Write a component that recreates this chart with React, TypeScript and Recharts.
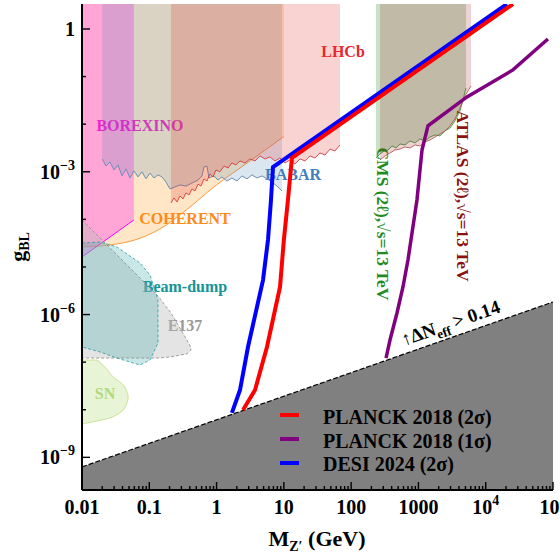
import { Area, ComposedChart, Legend, Line, XAxis, YAxis } from "recharts"

const FONT = "'Liberation Serif', 'Times New Roman', Times, serif"

const M_RANGE: [number, number] = [0.01, 1e5]
const G_RANGE: [number, number] = [2.06e-10, 3.35]
// shaded exclusions run past the frame and get clipped
const G_TOP = 30
const G_BOTTOM = 1e-11

const xMajor = [0.01, 0.1, 1, 10, 100, 1000, 1e4, 1e5]
const xMajorLabels = ["0.01", "0.1", "1", "10", "100", "1000", "10^4", "10^5"]
const yDecades = [1e-9, 1e-8, 1e-7, 1e-6, 1e-5, 1e-4, 1e-3, 1e-2, 1e-1, 1]
const yMajor = [1, 1e-3, 1e-6, 1e-9]
const yMajorLabels = ["1", "10^−3", "10^−6", "10^−9"]

const xTicks = [
  ...xMajor,
  ...xMajor.slice(0, -1).flatMap((d) => [2, 3, 4, 5, 6, 7, 8, 9].map((k) => k * d)),
]

// excluded from the lower edge up
const coherentMass = [0.01, 0.026, 0.061, 0.144, 0.339, 0.947, 3.14, 10.0]
const coherentG = [2.63e-5, 2.9e-5, 3.69e-5, 6.3e-5, 1.5e-4, 5.0e-4, 1.69e-3, 5.5e-3]

const borexinoMass = [0.01, 0.059]
const borexinoG = [1.62e-5, 9.7e-5]

const babarMass = [
  0.02, 0.0227, 0.026, 0.0299, 0.0343, 0.0393, 0.0451, 0.0517, 0.0593, 0.068, 0.0779, 0.0893,
  0.1025, 0.1175, 0.1347, 0.1545, 0.177, 0.203, 0.241, 0.286, 0.351, 0.431, 0.53, 0.607, 0.65,
  0.72, 0.771, 0.915, 1.05, 1.2, 1.43, 1.69, 2.01, 2.39, 2.83, 3.36, 3.99, 4.73, 5.61, 6.66,
  7.91, 9.38,
]
const babarG = [
  1.86e-3, 1.32e-3, 1.61e-3, 1.09e-3, 1.39e-3, 8.2e-4, 1.15e-3, 7.4e-4, 1.04e-3, 7.8e-4, 1.0e-3,
  7.1e-4, 9.4e-4, 7.4e-4, 8.6e-4, 7.8e-4, 6.1e-4, 4.35e-4, 4.8e-4, 5.3e-4, 5.0e-4, 5.8e-4,
  6.7e-4, 8.2e-4, 1.26e-3, 1.32e-3, 7.4e-4, 8.2e-4, 6.7e-4, 7.8e-4, 6.4e-4, 7.4e-4, 6.4e-4,
  8.2e-4, 7.1e-4, 8.6e-4, 7.4e-4, 8.2e-4, 7.1e-4, 6.1e-4, 5.0e-4, 3.95e-4,
]

const lhcbMass = [
  0.21, 0.233, 0.258, 0.286, 0.317, 0.351, 0.389, 0.431, 0.478, 0.53, 0.587, 0.65, 0.72, 0.798,
  0.885, 0.98, 1.12, 1.29, 1.48, 1.69, 1.94, 2.23, 2.65, 3.14, 3.72, 4.42, 5.24, 6.22, 7.38, 8.76,
  10.4, 12.3, 14.6, 17.4, 20.6, 24.5, 29.0, 34.4, 40.9, 48.5, 57.5, 68.2,
]
const lhcbG = [
  2.21e-4, 2.82e-4, 2.32e-4, 3.1e-4, 2.68e-4, 3.59e-4, 3.26e-4, 4.35e-4, 3.95e-4, 5.5e-4, 5.0e-4,
  7.1e-4, 6.4e-4, 9.0e-4, 7.8e-4, 1.09e-3, 1.0e-3, 1.32e-3, 1.2e-3, 1.53e-3, 1.39e-3, 1.69e-3,
  1.53e-3, 1.86e-3, 1.69e-3, 2.15e-3, 1.86e-3, 2.05e-3, 1.69e-3, 1.95e-3, 1.53e-3, 1.77e-3,
  1.46e-3, 1.86e-3, 1.69e-3, 2.15e-3, 1.95e-3, 2.48e-3, 2.25e-3, 3.0e-3, 2.73e-3, 3.66e-3,
]

const cmsMass = [
  234, 268, 308, 353, 405, 464, 532, 631, 749, 889, 1054, 1251, 1485, 1762, 2090, 2481, 2944,
  3493, 4145, 4592, 5090,
]
const cmsG = [
  1.95e-3, 2.37e-3, 2.73e-3, 2.87e-3, 3.48e-3, 3.16e-3, 3.84e-3, 3.66e-3, 4.44e-3, 4.03e-3,
  4.89e-3, 4.44e-3, 5.38e-3, 5.93e-3, 5.65e-3, 7.2e-3, 8.3e-3, 1.17e-2, 1.89e-2, 3.22e-2, 5.77e-2,
]

const atlasMass = [
  268, 318, 378, 448, 532, 631, 749, 889, 1054, 1251, 1485, 1762, 2090, 2481, 2944, 3493, 4145,
  4918, 6040,
]
const atlasG = [
  1.77e-3, 2.15e-3, 2.48e-3, 2.87e-3, 3.0e-3, 3.32e-3, 3.16e-3, 3.66e-3, 3.48e-3, 4.23e-3,
  4.66e-3, 5.38e-3, 6.2e-3, 7.2e-3, 9.2e-3, 1.29e-2, 2.19e-2, 3.91e-2, 6.35e-2,
]

// closed islands: upper and lower edge at each mass
const e137Mass = [0.01, 0.1347, 0.21, 0.296, 0.363, 0.417]
const e137High = [9.7e-5, 2.46e-6, 1.08e-6, 4.75e-7, 2.92e-7, 1.99e-7]
const e137Low = [1.22e-7, 1.22e-7, 1.29e-7, 1.42e-7, 1.49e-7, 1.8e-7]

const beamDumpMass = [0.01, 0.0185, 0.0331, 0.0728, 0.1025, 0.1347]
const beamDumpHigh = [3.19e-5, 3.35e-5, 2.63e-5, 1.21e-5, 6.8e-6, 2.03e-6]
const beamDumpLow = [2.08e-7, 1.64e-7, 1.22e-7, 8.7e-8, 1.11e-7, 2.53e-7]

const snMass = [0.01, 0.0167, 0.0227, 0.0289, 0.0367, 0.0436, 0.0483]
const snHigh = [1.11e-7, 1.11e-7, 7.55e-8, 4.9e-8, 3.84e-8, 3.0e-8, 2.05e-8]
const snLow = [5.0e-9, 5.8e-9, 6.4e-9, 7.1e-9, 8.6e-9, 1.09e-8, 1.61e-8]

// Delta N_eff > 0.14 below this line
const neffMass = [0.01, 1e5]
const neffG = [6.3e-10, 1.84e-6]

const desiMass = [1.69, 2.23, 2.93, 4.9, 5.81, 6.44, 6.89, 20700]
const desiG = [8.6e-9, 2.6e-8, 2.08e-7, 5.3e-6, 3.69e-5, 2.56e-4, 1.26e-3, 3.35]

const planck2Mass = [2.47, 3.73, 5.61, 8.77, 10.0, 11.5, 13.2, 25400]
const planck2G = [9.9e-9, 2.6e-8, 2.08e-7, 3.8e-6, 3.69e-5, 2.56e-4, 1.95e-3, 3.35]

const planck1Mass = [330, 378, 480, 589, 699, 951, 1130, 1387, 5270, 25400, 84100]
const planck1G = [1.22e-7, 2.92e-7, 1.08e-6, 3.8e-6, 1.4e-5, 2.56e-4, 2.87e-3, 9.2e-3, 3.73e-2, 0.138, 0.617]

const legendNames = ["PLANCK 2018 (2σ)", "PLANCK 2018 (1σ)", "DESI 2024 (2σ)"]
const legendColors = ["#ff0000", "#800080", "#0000ff"]

const above = (mass: number[], g: number[]) => mass.map((m, i) => ({ m, g: [g[i], G_TOP] }))
const between = (mass: number[], lo: number[], hi: number[]) =>
  mass.map((m, i) => ({ m, g: [lo[i], hi[i]] }))
const ring = (mass: number[], lo: number[], hi: number[]) => [
  ...mass.map((m, i) => ({ m, g: hi[i] })),
  ...mass.map((m, i) => ({ m, g: lo[i] })).reverse(),
]
const curve = (mass: number[], g: number[]) => mass.map((m, i) => ({ m, g: g[i] }))

const near = (a: number, b: number) => Math.abs(a - b) <= Math.abs(b) * 1e-6

function PowerText({ x, y, text, anchor, size = 20 }: any) {
  const [base, exp] = text.split("^")
  return (
    <text x={x} y={y} textAnchor={anchor} fontFamily={FONT} fontWeight="bold" fontSize={size} fill="#000">
      <tspan>{base}</tspan>
      {exp && (
        <tspan dy={-9} fontSize={size * 0.7}>
          {exp}
        </tspan>
      )}
    </text>
  )
}

function XTick({ x, y, payload, side }: any) {
  const i = xMajor.findIndex((v) => near(payload.value, v))
  const len = i >= 0 ? 8 : 4
  const dir = side === "bottom" ? -1 : 1
  return (
    <g>
      <line x1={x} x2={x} y1={y} y2={y + dir * len} stroke="#000" strokeWidth={1.4} />
      {side === "bottom" && i >= 0 && (
        <PowerText x={x} y={y + 24} text={xMajorLabels[i]} anchor="middle" />
      )}
    </g>
  )
}

function YTick({ x, y, payload, side }: any) {
  const i = yMajor.findIndex((v) => near(payload.value, v))
  const len = i >= 0 ? 8 : 4
  const dir = side === "left" ? 1 : -1
  return (
    <g>
      <line x1={x} x2={x + dir * len} y1={y} y2={y} stroke="#000" strokeWidth={1.4} />
      {side === "left" && i >= 0 && (
        <PowerText x={x - 7} y={y + 7} text={yMajorLabels[i]} anchor="end" />
      )}
    </g>
  )
}

const label = (x: number, y: number, text: string, color: string, size = 16, rotate = 0) => (
  <text
    key={text}
    x={x}
    y={y}
    textAnchor="middle"
    dominantBaseline={rotate ? "central" : undefined}
    transform={rotate ? `rotate(${rotate} ${x} ${y})` : undefined}
    fontFamily={FONT}
    fontWeight="bold"
    fontSize={size}
    fill={color}
  >
    {text}
  </text>
)

// legend sits over the grey band, so it is drawn in the html overlay
function CurveLegend() {
  return (
    <svg width={560} height={560} style={{ position: "absolute", left: 0, top: 0, pointerEvents: "none" }}>
      {legendNames.map((name, i) => (
        <line key={`k${name}`} x1={280} x2={299} y1={415 + i * 24} y2={415 + i * 24} stroke={legendColors[i]} strokeWidth={4} />
      ))}
      {legendNames.map((name, i) => (
        <text key={`t${name}`} x={323} y={424 + i * 23.5} fontFamily={FONT} fontWeight="bold" fontSize={20} fill="#000">
          {name}
        </text>
      ))}
    </svg>
  )
}

export default function App() {
  return (
    <div style={{ position: "absolute", left: 0, top: 0, width: 560, height: 560, background: "#fff" }}>
      <ComposedChart width={560} height={560} margin={{ top: 4, right: 7, bottom: 0, left: 0 }}>
        <XAxis
          dataKey="m"
          type="number"
          scale="log"
          domain={M_RANGE}
          allowDataOverflow
          ticks={xTicks}
          interval={0}
          height={70}
          tickSize={0}
          tickMargin={0}
          tickLine={false}
          axisLine={{ stroke: "#000", strokeWidth: 2 }}
          tick={(p: any) => <XTick {...p} side="bottom" />}
        />
        <XAxis
          xAxisId="top"
          orientation="top"
          type="number"
          scale="log"
          domain={M_RANGE}
          allowDataOverflow
          ticks={xTicks}
          interval={0}
          height={0}
          tickSize={0}
          tickMargin={0}
          tickLine={false}
          axisLine={{ stroke: "#000", strokeWidth: 2 }}
          tick={(p: any) => <XTick {...p} side="top" />}
        />
        <YAxis
          type="number"
          scale="log"
          domain={G_RANGE}
          allowDataOverflow
          ticks={yDecades}
          interval={0}
          width={82}
          tickSize={0}
          tickMargin={0}
          tickLine={false}
          axisLine={{ stroke: "#000", strokeWidth: 2 }}
          tick={(p: any) => <YTick {...p} side="left" />}
        />
        <YAxis
          yAxisId="right"
          orientation="right"
          type="number"
          scale="log"
          domain={G_RANGE}
          allowDataOverflow
          ticks={yDecades}
          interval={0}
          width={0}
          tickSize={0}
          tickMargin={0}
          tickLine={false}
          axisLine={{ stroke: "#000", strokeWidth: 2 }}
          tick={(p: any) => <YTick {...p} side="right" />}
        />

        <Area data={above(coherentMass, coherentG)} dataKey="g" type="monotone" fill="#ff8c00" fillOpacity={0.22} stroke="#ff9a3c" strokeWidth={1} isAnimationActive={false} />
        <Area data={above(borexinoMass, borexinoG)} dataKey="g" type="linear" fill="#ff00ff" fillOpacity={0.28} stroke="#ff00ff" strokeWidth={1} isAnimationActive={false} />
        <Area data={above(babarMass, babarG)} dataKey="g" type="linear" fill="#4682b4" fillOpacity={0.2} stroke="#6f8fb5" strokeWidth={1} isAnimationActive={false} />
        <Area data={above(lhcbMass, lhcbG)} dataKey="g" type="linear" fill="#e43232" fillOpacity={0.22} stroke="#d42a2a" strokeWidth={0.8} isAnimationActive={false} />
        <Area data={above(cmsMass, cmsG)} dataKey="g" type="linear" fill="#228b22" fillOpacity={0.25} stroke="#2e8b2e" strokeWidth={0.8} isAnimationActive={false} />
        <Area data={above(atlasMass, atlasG)} dataKey="g" type="linear" fill="#a01e1e" fillOpacity={0.2} stroke="#b04848" strokeWidth={0.8} isAnimationActive={false} />

        <Area data={between(e137Mass, e137Low, e137High)} dataKey="g" type="linear" fill="#bbbbbb" fillOpacity={0.4} stroke="none" isAnimationActive={false} />
        <Line data={ring(e137Mass, e137Low, e137High)} dataKey="g" type="linear" stroke="#8a8a8a" strokeWidth={0.8} strokeDasharray="3 2" dot={false} activeDot={false} isAnimationActive={false} />
        <Area data={between(beamDumpMass, beamDumpLow, beamDumpHigh)} dataKey="g" type="linear" fill="#2aa0a0" fillOpacity={0.25} stroke="none" isAnimationActive={false} />
        <Line data={ring(beamDumpMass, beamDumpLow, beamDumpHigh)} dataKey="g" type="linear" stroke="#2a9d9d" strokeWidth={0.8} strokeDasharray="3 2" dot={false} activeDot={false} isAnimationActive={false} />
        <Area data={between(snMass, snLow, snHigh)} dataKey="g" type="monotone" fill="#b4dc78" fillOpacity={0.3} stroke="none" isAnimationActive={false} />
        <Line data={ring(snMass, snLow, snHigh)} dataKey="g" type="linear" stroke="#c2de86" strokeWidth={0.8} dot={false} activeDot={false} isAnimationActive={false} />

        <Area data={neffMass.map((m, i) => ({ m, g: [G_BOTTOM, neffG[i]] }))} dataKey="g" type="linear" fill="#808080" fillOpacity={1} stroke="#000" strokeWidth={1.2} strokeDasharray="5 2" isAnimationActive={false} />

        {label(140, 131, "BOREXINO", "#ee11ee")}
        {label(185, 224, "COHERENT", "#ff8a1c")}
        {label(343, 57, "LHCb", "#e8262b")}
        {label(293, 180, "BABAR", "#3f7fbf")}
        {label(185, 292, "Beam-dump", "#169494")}
        {label(185, 331, "E137", "#9a9a9a")}
        {label(105, 399, "SN", "#b5d97a")}
        {label(383, 224, "CMS (2ℓ),√s=13 TeV", "#1e8c1e", 17.5, 90)}
        {label(463, 196, "ATLAS (2ℓ),√s=13 TeV", "#8b1010", 17.5, 90)}

        <Line data={curve(desiMass, desiG)} dataKey="g" type="linear" stroke="#0000ff" strokeWidth={4} dot={false} activeDot={false} isAnimationActive={false} />
        <Line data={curve(planck2Mass, planck2G)} dataKey="g" type="linear" stroke="#ff0000" strokeWidth={4} dot={false} activeDot={false} isAnimationActive={false} />
        <Line data={curve(planck1Mass, planck1G)} dataKey="g" type="linear" stroke="#800080" strokeWidth={3.5} dot={false} activeDot={false} isAnimationActive={false} />

        <text transform="translate(404 346) rotate(-19.3)" fontFamily={FONT} fontWeight="bold" fontSize={19} fill="#000">
          <tspan fontWeight="normal">↑</tspan>
          <tspan>ΔN</tspan>
          <tspan dy={5} fontSize={13}>eff</tspan>
          <tspan dy={-5}> &gt; 0.14</tspan>
        </text>

        <text x={317} y={546} textAnchor="middle" fontFamily={FONT} fontWeight="bold" fontSize={22} fill="#000">
          <tspan>M</tspan>
          <tspan dy={5} fontSize={14}>Z′</tspan>
          <tspan dy={-5}> (GeV)</tspan>
        </text>
        <text transform="translate(25 247) rotate(-90)" textAnchor="middle" fontFamily={FONT} fontWeight="bold" fontSize={22} fill="#000">
          <tspan>g</tspan>
          <tspan dy={4} fontSize={14}>BL</tspan>
        </text>

        <Legend
          layout="horizontal"
          align="center"
          verticalAlign="middle"
          content={() => <CurveLegend />}
          wrapperStyle={{ position: "absolute", left: 0, top: 0, width: 560, height: 560, margin: 0, pointerEvents: "none" }}
        />
      </ComposedChart>
    </div>
  )
}
